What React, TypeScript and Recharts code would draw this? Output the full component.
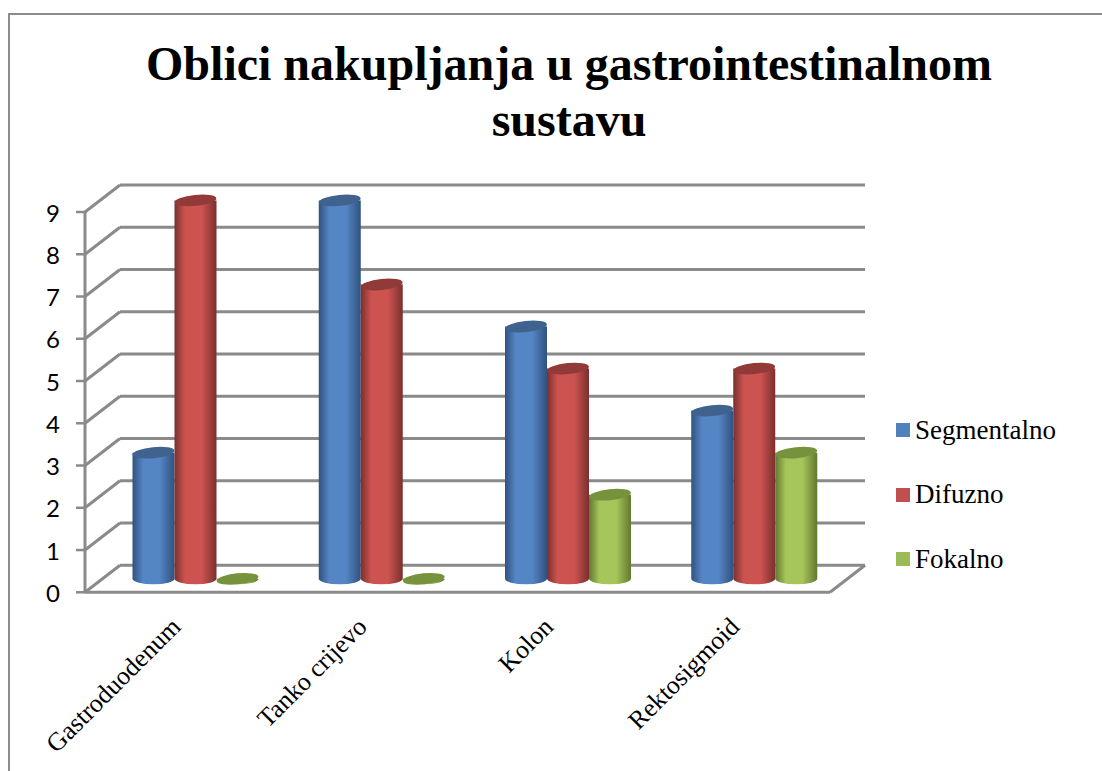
import React from 'react';
import { BarChart, Bar, XAxis, YAxis, CartesianGrid, Legend } from 'recharts';

const categories = ['Gastroduodenum', 'Tanko crijevo', 'Kolon', 'Rektosigmoid'];
const segmentalno = [3, 9, 6, 4];
const difuzno = [9, 7, 5, 5];
const fokalno = [0, 0, 2, 3];
const yTicks = [0, 1, 2, 3, 4, 5, 6, 7, 8, 9];

const chartData = categories.map((name, i) => ({
    name,
    Segmentalno: segmentalno[i],
    Difuzno: difuzno[i],
    Fokalno: fokalno[i],
}));

const serif = '"Liberation Serif", serif';
const gridColor = '#8a8a8a';

// depth of the fake 3d box, back wall vs. front axis
const DEPTH_X = 35;
const DEPTH_Y = 27;

const palette: Record<string, { main: string; dark: string; top: string; swatch: string }> = {
    Segmentalno: { main: '#5485c4', dark: '#30527f', top: '#3f628f', swatch: '#4f81bd' },
    Difuzno: { main: '#cc5350', dark: '#7a302e', top: '#913a38', swatch: '#c0504d' },
    Fokalno: { main: '#a6c55a', dark: '#63782f', top: '#76923c', swatch: '#9bbb59' },
};

function Cylinder(props: any) {
    const { x, y, width, height, dataKey } = props;
    const c = palette[dataKey];
    const rx = width / 2;
    const ry = 5.5;
    const cx = x + 17.5 + rx;
    const baseY = y + height - 13.5;
    const topY = baseY - height * 0.995;
    const left = cx - rx;
    const right = cx + rx;
    return (
        <g>
            <path
                d={`M${left},${topY} L${left},${baseY} A${rx},${ry} 0 0 0 ${right},${baseY - 0.01} L${right},${topY} Z`}
                fill={`url(#cyl-${dataKey})`}
            />
            <ellipse
                cx={cx}
                cy={topY}
                rx={rx}
                ry={ry}
                fill={c.top}
                transform={`rotate(-6 ${cx} ${topY})`}
            />
        </g>
    );
}

function GridRow(props: any) {
    const { x1, x2, y1 } = props;
    const bx1 = x1 + DEPTH_X;
    const bx2 = x2 + DEPTH_X;
    const by = y1 - DEPTH_Y;
    return (
        <g stroke={gridColor} strokeWidth={3} fill="none">
            <line x1={x1} y1={y1} x2={bx1} y2={by} />
            <line x1={bx1} y1={by} x2={bx2} y2={by} />
            {/* bottom row also closes the floor on the right side */}
            {y1 > 590 ? <line x1={x2} y1={y1} x2={bx2} y2={by} /> : null}
        </g>
    );
}

function XTick(props: any) {
    const { x, y, payload } = props;
    return (
        <text
            x={x + 4}
            y={y + 28}
            textAnchor="end"
            fontFamily={serif}
            fontSize={25.8}
            fill="#000"
            transform={`rotate(-45 ${x + 4} ${y + 28})`}
        >
            {payload.value}
        </text>
    );
}

function LegendBox({ payload }: any) {
    return (
        <div>
            {payload.map((item: any) => (
                <div
                    key={item.value}
                    style={{ display: 'flex', alignItems: 'center', height: 64.5, fontFamily: serif, fontSize: 27, color: '#000' }}
                >
                    <span style={{ width: 14, height: 14, marginRight: 5, background: palette[item.value].swatch }} />
                    {item.value}
                </div>
            ))}
        </div>
    );
}

export default function App() {
    return (
        <div style={{ position: 'absolute', left: 0, top: 0, width: 1102, height: 771, background: '#fff', overflow: 'hidden' }}>
            <div style={{ position: 'absolute', left: 8, top: 13, width: 1120, height: 800, border: '2px solid #8c8c8c' }} />
            <div
                style={{
                    position: 'absolute',
                    left: 99,
                    top: 36,
                    width: 940,
                    textAlign: 'center',
                    fontFamily: serif,
                    fontWeight: 'bold',
                    fontSize: 48,
                    lineHeight: '56px',
                    color: '#000',
                }}
            >
                Oblici nakupljanja u gastrointestinalnom sustavu
            </div>
            <BarChart
                width={1102}
                height={771}
                data={chartData}
                barSize={42}
                barGap={0}
                margin={{ top: 212, right: 72, bottom: 0, left: 0 }}
                style={{ position: 'absolute', left: 0, top: 0 }}
            >
                <defs>
                    {Object.keys(palette).map((key) => (
                        <linearGradient key={key} id={`cyl-${key}`} x1="0" y1="0" x2="1" y2="0">
                            <stop offset="0%" stopColor={palette[key].dark} />
                            <stop offset="25%" stopColor={palette[key].main} />
                            <stop offset="65%" stopColor={palette[key].main} />
                            <stop offset="100%" stopColor={palette[key].dark} />
                        </linearGradient>
                    ))}
                </defs>
                <CartesianGrid vertical={false} horizontal={(p: any) => <GridRow key={p.y1} {...p} />} />
                <XAxis
                    dataKey="name"
                    interval={0}
                    height={178.7}
                    axisLine={{ stroke: gridColor, strokeWidth: 3 }}
                    tickLine={false}
                    tick={<XTick />}
                />
                <YAxis
                    domain={[0, 9]}
                    ticks={yTicks}
                    width={85}
                    axisLine={{ stroke: gridColor, strokeWidth: 3 }}
                    tickLine={{ stroke: gridColor, strokeWidth: 2.5 }}
                    tickSize={9}
                    tickMargin={16}
                    tick={{ fontFamily: 'Lato, sans-serif', fontSize: 24, fill: '#000', dy: 1 }}
                />
                <Legend
                    layout="vertical"
                    align="right"
                    verticalAlign="top"
                    itemSorter={null}
                    content={<LegendBox />}
                    wrapperStyle={{ position: 'absolute', left: 896, top: 398, width: 200 }}
                />
                <Bar dataKey="Segmentalno" fill={palette.Segmentalno.swatch} shape={<Cylinder />} isAnimationActive={false} />
                <Bar dataKey="Difuzno" fill={palette.Difuzno.swatch} shape={<Cylinder />} isAnimationActive={false} />
                <Bar dataKey="Fokalno" fill={palette.Fokalno.swatch} shape={<Cylinder />} isAnimationActive={false} />
            </BarChart>
        </div>
    );
}
